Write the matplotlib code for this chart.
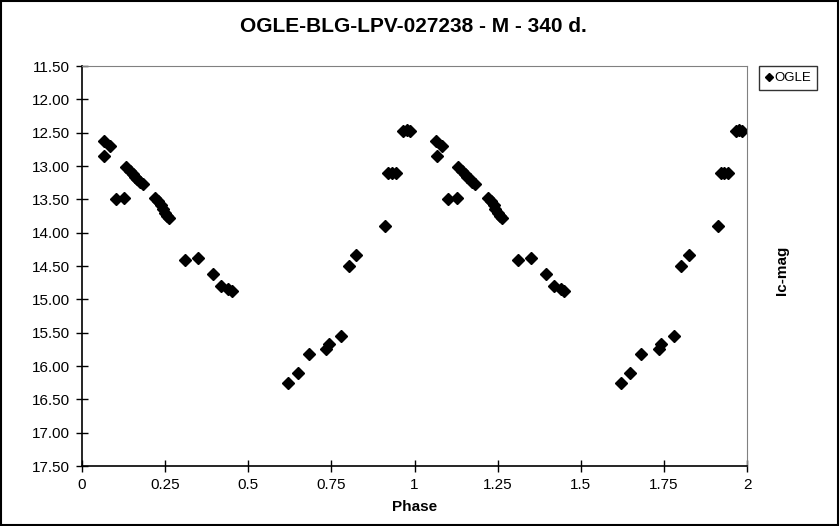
import matplotlib
matplotlib.use('Agg')
import matplotlib.pyplot as plt
from matplotlib.patches import Rectangle

plt.rcParams['font.family'] = ['Liberation Sans', 'DejaVu Sans']

# phase / Ic magnitude, one cycle (drawn twice)
phase = [0.066, 0.084, 0.067, 0.101, 0.127, 0.132, 0.144, 0.152, 0.159, 0.166,
         0.174, 0.183, 0.220, 0.229, 0.238, 0.243, 0.250, 0.257, 0.263, 0.311,
         0.349, 0.395, 0.419, 0.440, 0.450, 0.620, 0.649, 0.682, 0.734, 0.742,
         0.779, 0.803, 0.825, 0.912, 0.921, 0.931, 0.944, 0.966, 0.977, 0.986]
mag = [12.625, 12.70, 12.845, 13.50, 13.48, 13.02, 13.075, 13.12, 13.16, 13.195,
       13.235, 13.275, 13.485, 13.525, 13.585, 13.65, 13.70, 13.75, 13.785, 14.415,
       14.385, 14.62, 14.795, 14.85, 14.87, 16.26, 16.11, 15.82, 15.745, 15.67,
       15.55, 14.495, 14.34, 13.905, 13.10, 13.10, 13.11, 12.475, 12.465, 12.47]

xs = phase + [p + 1 for p in phase]
ys = mag + mag

fig = plt.figure(figsize=(8.4, 5.26), dpi=100)
ax = fig.add_axes([82/840, 1 - 466/526, 665/840, 400/526])

ax.plot(xs, ys, linestyle='none', marker='D', ms=6, color='black', label='OGLE')

ax.set_xlim(0, 2)
ax.set_ylim(17.5, 11.5)
ax.set_xticks([0, 0.25, 0.5, 0.75, 1, 1.25, 1.5, 1.75, 2])
ax.set_xticklabels(['0', '0.25', '0.5', '0.75', '1', '1.25', '1.5', '1.75', '2'])
yt = [11.5 + 0.5 * i for i in range(13)]
ax.set_yticks(yt)
ax.set_yticklabels(['%.2f' % v for v in yt])
ax.tick_params(direction='inout', length=9, width=1, labelsize=11, pad=4)

ax.spines['top'].set_color('#808080')
ax.spines['right'].set_color('#808080')
ax.spines['left'].set_linewidth(1.2)
ax.spines['bottom'].set_linewidth(1.2)

ax.set_xlabel('Phase', fontsize=11, fontweight='bold', labelpad=6)
fig.text(782/840, 1 - 270/526, 'Ic-mag', rotation=90, fontsize=11, fontweight='bold',
         ha='center', va='center')
fig.suptitle('OGLE-BLG-LPV-027238 - M - 340 d.', x=413/840, y=1 - 27/526,
             fontsize=15, fontweight='bold', va='center')

fig.legend(loc='upper left', bbox_to_anchor=(759/840, 1 - 66/526), frameon=True,
           fancybox=False, edgecolor='black', fontsize=9.5, handlelength=0.6,
           handletextpad=0.1, borderpad=0.45, borderaxespad=0, markerscale=0.7)

fig.patches.append(Rectangle((0.001, 0.001), 0.997, 0.997, transform=fig.transFigure,
                             fill=False, edgecolor='black', linewidth=1.5))

fig.savefig('out.png', dpi=100)
